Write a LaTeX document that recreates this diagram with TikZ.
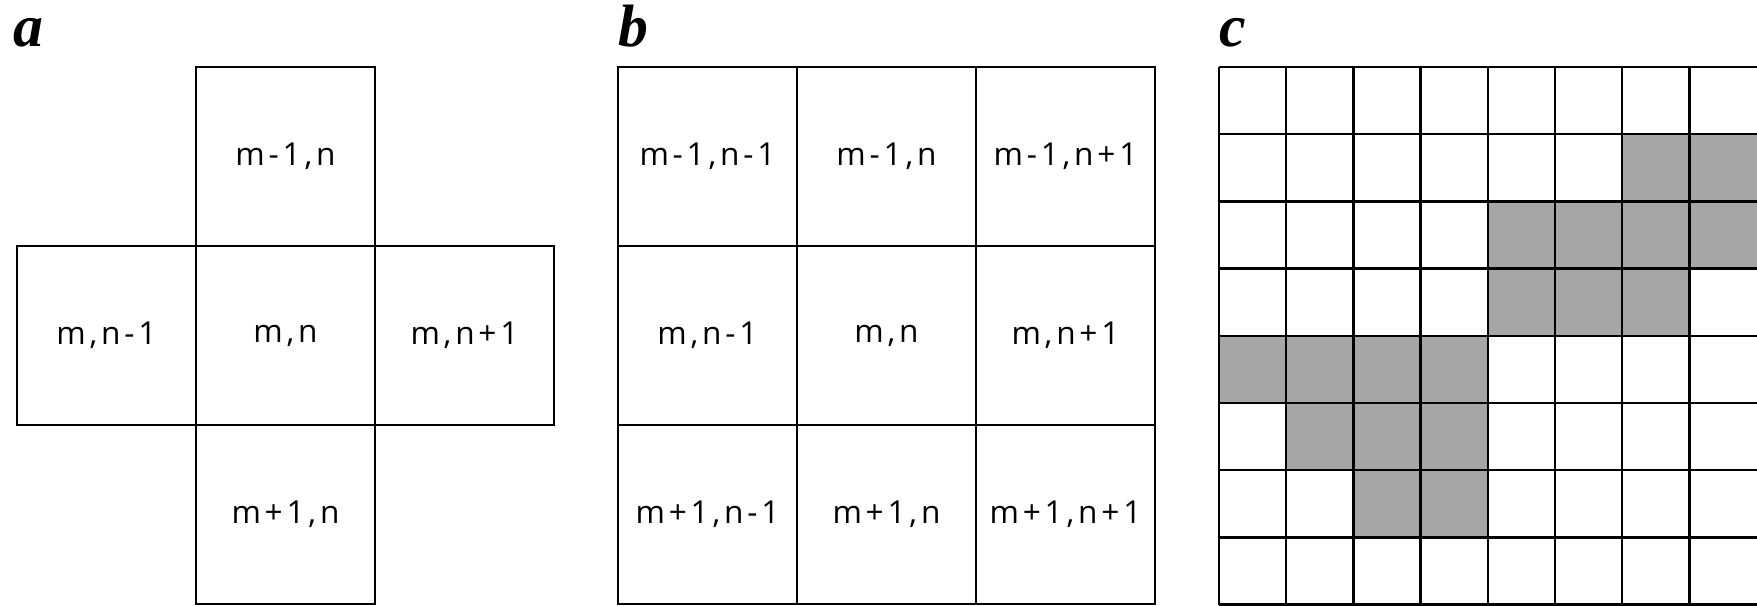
\documentclass[tikz,border=0pt]{standalone}
\usepackage{fontspec}
\newfontfamily\cellfont[LetterSpace=12]{Open Sans}
\newfontfamily\panelfont{Liberation Serif}
\usetikzlibrary{positioning}

\begin{document}
\begin{tikzpicture}[
   cell/.style={draw, line width=0.7pt, outer sep=0pt, inner sep=0pt,
      minimum width=1.79cm, minimum height=1.79cm,
      font=\cellfont\fontsize{9}{11}\selectfont},
   panel/.style={anchor=base west, inner sep=0pt,
      font=\panelfont\bfseries\itshape\fontsize{17}{20}\selectfont},
   gridline/.style={line width=0.7pt}
]
   \useasboundingbox (0,0) rectangle (17.57,6.06);
   % Panel labels
   \node[panel] (lbla) at (0.13,5.59) {a};
   \node[panel] (lblb) at (6.18,5.59) {b};
   \node[panel] (lblc) at (12.19,5.59) {c};
   % (a) Four neighbours
   \node[cell] (a-mn) at (2.855,2.705) {m,n};
   \node[cell, above=0pt of a-mn] (a-n) {m-1,n};
   \node[cell, below=0pt of a-mn] (a-s) {m+1,n};
   \node[cell, left=0pt of a-mn] (a-w) {m,n-1};
   \node[cell, right=0pt of a-mn] (a-e) {m,n+1};
   % (b) Eight neighbours
   \node[cell] (b-mn) at (8.865,2.705) {m,n};
   \node[cell, above=0pt of b-mn] (b-n) {m-1,n};
   \node[cell, below=0pt of b-mn] (b-s) {m+1,n};
   \node[cell, left=0pt of b-mn] (b-w) {m,n-1};
   \node[cell, right=0pt of b-mn] (b-e) {m,n+1};
   \node[cell, above=0pt of b-w] (b-nw) {m-1,n-1};
   \node[cell, above=0pt of b-e] (b-ne) {m-1,n+1};
   \node[cell, below=0pt of b-w] (b-sw) {m+1,n-1};
   \node[cell, below=0pt of b-e] (b-se) {m+1,n+1};
   % (c) Pixel grid with shaded region
   \foreach \c/\r in {6/1,7/1, 4/2,5/2,6/2,7/2, 4/3,5/3,6/3,
                      0/4,1/4,2/4,3/4, 1/5,2/5,3/5, 2/6,3/6}
      \fill[black!35] (12.19+0.672*\c,5.39-0.672*\r) rectangle ++(0.672,-0.672);
   \foreach \i in {0,...,8}
      \draw[gridline] (12.19,5.39-0.672*\i) -- (17.57,5.39-0.672*\i);
   \foreach \i in {0,...,7}
      \draw[gridline] (12.19+0.672*\i,5.39) -- (12.19+0.672*\i,0.014);
\end{tikzpicture}
\end{document}
